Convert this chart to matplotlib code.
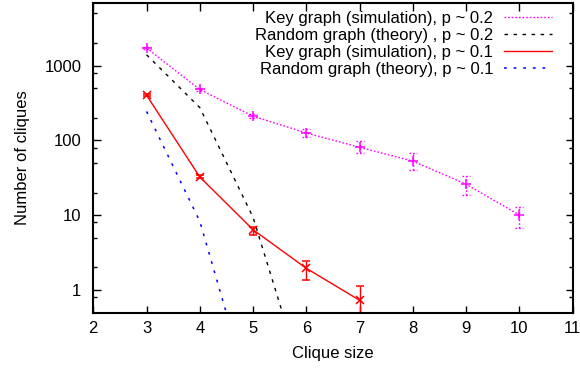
import numpy as np
import matplotlib.pyplot as plt
from matplotlib.lines import Line2D
from matplotlib.ticker import FixedLocator, NullFormatter

plt.rcParams['font.family'] = ['Liberation Sans', 'DejaVu Sans']

# clique sizes
size_key02 = [3, 4, 5, 6, 7, 8, 9, 10]
size_key01 = [3, 4, 5, 6, 7]
size_rand02 = [3, 4, 5, 6]
size_rand01 = [3, 4, 5]

# key graph (simulation), p ~ 0.2  -- value, lower, upper
key02 = [1720, 480, 211, 126, 81, 53, 26, 10.1]
key02_lo = [1650, 460, 200, 110, 67, 40, 18.6, 6.7]
key02_hi = [1800, 500, 224, 142, 98, 68, 33, 12.9]

# key graph (simulation), p ~ 0.1
key01 = [402, 32.5, 6.4, 1.95, 0.73]
key01_lo = [390, 31, 5.5, 1.36, 0.3]
key01_hi = [415, 34, 7.0, 2.44, 1.14]

# random graph (theory)
rand02 = [1400, 275, 9.4, 0.046]
rand01 = [244, 8.3, 0.029]

labels = ["Key graph (simulation), p ~ 0.2",
          "Random graph (theory) , p ~ 0.2",
          "Key graph (simulation), p ~ 0.1",
          "Random graph (theory), p ~ 0.1"]

px = 72.0 / 100  # one pixel in points
fs = 12

fig = plt.figure(figsize=(5.8, 3.68), dpi=100)
ax = fig.add_axes([93.3 / 580, 1 - 313.3 / 368, (572.5 - 93.3) / 580, (313.3 - 2.7) / 368])

# styles (roughly gnuplot postscript look)
st_key02 = dict(color='#ff00ff', lw=1.0, dashes=(1.2, 1.4))
st_rand02 = dict(color='black', lw=1.0, dashes=(2.5, 4.0))
st_key01 = dict(color='#ff0000', lw=1.0, linestyle='-')
st_rand01 = dict(color='#0000ff', lw=1.1, dashes=(1.8, 4.5))

# p ~ 0.2 simulation, dotted line and dotted error bars
y = np.array(key02)
err = [y - np.array(key02_lo), np.array(key02_hi) - y]
ax.plot(size_key02, key02, marker='+', ms=7, mew=1.1, **st_key02)
eb = ax.errorbar(size_key02, key02, yerr=err, fmt='none', ecolor='#ff00ff',
                 elinewidth=1.0, capsize=0)
eb.lines[2][0].set_linestyle((0, (1.2, 1.4)))
for xi, lo, hi in zip(size_key02, key02_lo, key02_hi):
    for v in (lo, hi):
        ax.plot([xi - 0.075, xi + 0.075], [v, v], color='#ff00ff', lw=1.0, dashes=(1.2, 1.4))

ax.plot(size_rand02, rand02, **st_rand02)

y = np.array(key01)
err = [y - np.array(key01_lo), np.array(key01_hi) - y]
ax.errorbar(size_key01, key01, yerr=err, marker='x', ms=6, mew=1.1,
            capsize=3, capthick=1.0, elinewidth=1.0, **st_key01)

ax.plot(size_rand01, rand01, **st_rand01)

ax.set_yscale('log')
ax.set_xlim(2, 11)
ax.set_ylim(0.488, 6950)

ax.xaxis.set_major_locator(FixedLocator(range(2, 12)))
ax.yaxis.set_major_locator(FixedLocator([1, 10, 100, 1000]))
ax.yaxis.set_minor_locator(FixedLocator([0.8, 2, 5, 8, 20, 50, 80, 200, 500, 800, 2000, 5000]))
ax.yaxis.set_minor_formatter(NullFormatter())
ax.set_yticklabels(["1", "10", "100", "1000"])
ax.set_xticklabels([str(i) for i in range(2, 12)])

ax.tick_params(which='both', direction='in', top=True, right=True, labelsize=fs, width=1.0)
ax.tick_params(which='major', length=7.5 * px)
ax.tick_params(which='minor', length=4 * px)
ax.tick_params(axis='y', which='major', pad=12 * px)
ax.tick_params(axis='x', which='major', pad=8 * px)
for sp in ax.spines.values():
    sp.set_linewidth(1.5)

ax.set_xlabel("Clique size", fontsize=fs, labelpad=7)
ax.set_ylabel("Number of cliques", fontsize=fs, labelpad=10)

handles = [Line2D([], [], **st_key02), Line2D([], [], **st_rand02),
           Line2D([], [], **st_key01), Line2D([], [], **st_rand01)]
fpx = fs / px
ax.legend(handles, labels, loc='upper right', bbox_to_anchor=(552 / 580, 1 - 11 / 368),
          bbox_transform=fig.transFigure, frameon=False, fontsize=fs, markerfirst=False,
          borderpad=0, borderaxespad=0, handlelength=48 / fpx, handletextpad=11 / fpx,
          labelspacing=0.12)

plt.savefig("out.png", dpi=100)
